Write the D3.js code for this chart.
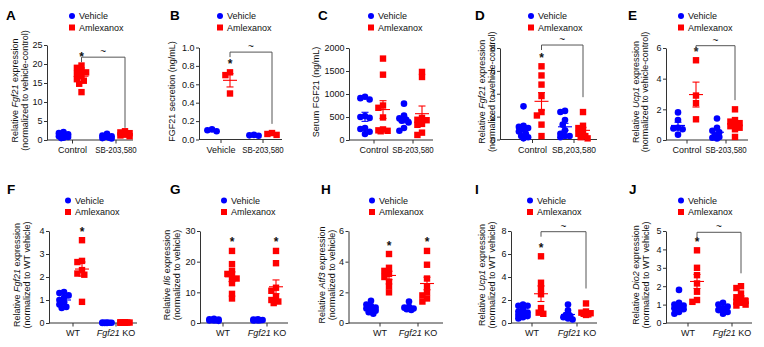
<!DOCTYPE html>
<html>
<head>
<meta charset="utf-8">
<script src="https://cdn.jsdelivr.net/npm/d3@7"></script>
<style>
  html, body { margin: 0; padding: 0; background: #fff; }
  svg { display: block; font-family: "Liberation Sans", Arial, sans-serif; }
</style>
</head>
<body>
<svg id="chart" width="764" height="347"></svg>
<script>
// ── Data ──────────────────────────────────────────────────
var sbCategories = ["Control", "SB-203,580"];
var sbCategoriesB = ["Vehicle", "SB-203,580"];
var sbCategoriesD = ["Control", "SB,203,580"];
var koCategories = ["WT", "Fgf21 KO"];
var seriesNames = ["Vehicle", "Amlexanox"];

// each array: [group 1 values, group 2 values]
var aVehicle = [[2.1, 1.8, 1.5, 1.3, 1.2, 1.1, 1.0, 0.8, 0.6, 0.5], [1.6, 1.2, 1.0, 0.9, 0.8, 0.6, 0.5, 0.4]];
var aAmlexanox = [[19.6, 19.0, 18.3, 17.8, 17.4, 16.8, 16.0, 15.6, 14.8, 12.6], [2.3, 2.0, 1.8, 1.7, 1.6, 1.4, 1.2, 1.0]];
var bVehicle = [[0.11, 0.10, 0.09], [0.05, 0.045, 0.04]];
var bAmlexanox = [[0.73, 0.70, 0.50], [0.07, 0.06, 0.05]];
var cVehicle = [[940, 910, 880, 520, 500, 480, 260, 240, 180, 130], [790, 530, 470, 440, 420, 380, 260, 200]];
var cAmlexanox = [[1770, 1420, 750, 700, 490, 230, 210, 200, 190], [1480, 1370, 480, 440, 430, 350, 330, 160, 110]];
var dVehicle = [[2.9, 1.2, 1.1, 1.0, 0.9, 0.7, 0.5, 0.3, 0.2, 0.1], [2.5, 2.4, 1.7, 1.3, 0.8, 0.5, 0.3, 0.3, 0.2]];
var dAmlexanox = [[6.4, 5.6, 4.8, 3.8, 2.4, 2.1, 1.3, 0.3], [2.4, 1.2, 1.0, 0.7, 0.5, 0.3, 0.2, 0.1]];
var eVehicle = [[1.8, 1.3, 0.8, 0.75, 0.7, 0.35], [1.4, 0.8, 0.6, 0.5, 0.3, 0.2, 0.15, 0.1]];
var eAmlexanox = [[5.2, 2.9, 2.4, 1.35], [2.0, 1.3, 1.2, 1.1, 1.0, 0.9, 0.8, 0.7, 0.2]];
var fVehicle = [[1.35, 1.3, 1.2, 1.1, 1.0, 0.9, 0.8, 0.7, 0.65], [0.02, 0.01, 0.01, 0.0, 0.0, 0.0, 0.01, 0.02]];
var fAmlexanox = [[3.6, 2.7, 2.65, 2.3, 2.15, 2.1, 0.92], [0.03, 0.02, 0.02, 0.01, 0.01, 0.02, 0.03]];
var gVehicle = [[1.4, 1.2, 1.1, 1.0, 0.9, 0.85, 0.8, 0.7], [1.2, 1.1, 1.0, 1.0, 0.9, 0.8, 0.8]];
var gAmlexanox = [[23.5, 19.2, 17.0, 16.0, 15.0, 14.5, 13.0, 9.5, 8.0], [23.5, 19.5, 11.5, 10.5, 8.5, 7.5, 7.0, 6.5]];
var hVehicle = [[1.45, 1.2, 1.1, 1.0, 0.95, 0.9, 0.8, 0.7, 0.6], [1.4, 1.05, 1.0, 0.95, 0.9, 0.85]];
var hAmlexanox = [[4.5, 3.6, 3.4, 3.2, 3.0, 2.7, 2.4, 2.0], [4.7, 3.8, 2.9, 2.4, 2.0, 1.8, 1.6, 1.4]];
var iVehicle = [[1.6, 1.5, 1.5, 1.2, 1.0, 0.9, 0.8, 0.7, 0.6, 0.5, 0.4], [1.6, 1.1, 0.7, 0.6, 0.5, 0.4, 0.3]];
var iAmlexanox = [[5.8, 3.5, 3.0, 2.5, 1.3, 0.9, 0.8], [1.7, 1.0, 0.9, 0.85, 0.8, 0.75, 0.7]];
var jVehicle = [[1.8, 1.1, 1.0, 0.95, 0.9, 0.8, 0.75, 0.6, 0.5], [1.1, 1.0, 0.9, 0.8, 0.7, 0.6, 0.5]];
var jAmlexanox = [[3.95, 3.0, 2.6, 2.15, 1.7, 1.25, 1.15], [2.0, 1.9, 1.6, 1.4, 1.3, 1.2, 1.15, 1.1, 1.0, 0.95]];

var ticksA = [0, 5, 10, 15, 20, 25];
var ticksB = [0, 0.2, 0.4, 0.6, 0.8, 1.0];
var ticksC = [0, 500, 1000, 1500, 2000];
var ticksD = [0, 2, 4, 6, 8];
var ticksE = [0, 2, 4, 6];
var ticksF = [0, 1, 2, 3, 4];
var ticksG = [0, 10, 20, 30];
var ticksH = [0, 2, 4, 6];
var ticksI = [0, 2, 4, 6, 8];
var ticksJ = [0, 1, 2, 3, 4, 5];

// ── Layout / styling ──────────────────────────────────────
var BLUE = "#0000ff", RED = "#ff0000", AXIS = "#333";
var FONT = "Liberation Sans, Arial, sans-serif";

var norm = "(normalized to vehicle-control)";
var panels = [
  { id: "A", lx: 6, row: 0, ax: 47, xe: 133, yt: 45, yb: 140, tx: [72.5, 116], lg: 72, ylx: [15, 25],
    cats: sbCategories, veh: aVehicle, aml: aAmlexanox, ticks: ticksA, fmt: d3.format("d"),
    ylab: [["Relative ", ""], ["Fgf21", "i"], [" expression", ""]], ylab2: norm,
    stars: [0], bracket: { top: 21.8, end: 3.2 } },
  { id: "B", lx: 170, row: 0, ax: 199, xe: 282, yt: 47.5, yb: 139.5, tx: [221, 263], lg: 220, ylx: [172],
    cats: sbCategoriesB, veh: bVehicle, aml: bAmlexanox, ticks: ticksB, fmt: d3.format(".1f"),
    ylab: [["FGF21 secretion (ng/mL)", ""]], stars: [0], bracket: { top: 0.95, end: 0.17 } },
  { id: "C", lx: 318, row: 0, ax: 349, xe: 433, yt: 48, yb: 140, tx: [374, 413], lg: 371, ylx: [316],
    cats: sbCategories, veh: cVehicle, aml: cAmlexanox, ticks: ticksC, fmt: d3.format("d"),
    ylab: [["Serum FGF21 (ng/mL)", ""]], stars: [] },
  { id: "D", lx: 475, row: 0, ax: 500, xe: 597, yt: 48, yb: 139.5, tx: [532.5, 574], lg: 531, ylx: [482, 492],
    cats: sbCategoriesD, veh: dVehicle, aml: dAmlexanox, ticks: ticksD, fmt: d3.format("d"),
    ylab: [["Relative ", ""], ["Fgf21", "i"], [" expression", ""]], ylab2: norm,
    stars: [0], bracket: { top: 8.26, end: 3.7 } },
  { id: "E", lx: 628, row: 0, ax: 666, xe: 748, yt: 48, yb: 140, tx: [687, 726], lg: 681, ylx: [636, 645],
    cats: sbCategories, veh: eVehicle, aml: eAmlexanox, ticks: ticksE, fmt: d3.format("d"),
    ylab: [["Relative ", ""], ["Ucp1", "i"], [" expression", ""]], ylab2: norm,
    stars: [0], bracket: { top: 6.15, end: 2.6 } },
  { id: "F", lx: 7, row: 1, ax: 49, xe: 137, yt: 231, yb: 323, tx: [73, 116], lg: 68, ylx: [17, 27],
    cats: koCategories, veh: fVehicle, aml: fAmlexanox, ticks: ticksF, fmt: d3.format("d"),
    ylab: [["Relative ", ""], ["Fgf21", "i"], [" expression", ""]], ylab2: "(normalized to WT vehicle)",
    stars: [0] },
  { id: "G", lx: 170, row: 1, ax: 200, xe: 288, yt: 231, yb: 323, tx: [223, 267], lg: 224, ylx: [167, 177],
    cats: koCategories, veh: gVehicle, aml: gAmlexanox, ticks: ticksG, fmt: d3.format("d"),
    ylab: [["Relative ", ""], ["Il6", "i"], [" expression", ""]], ylab2: "(normalized to vehicle)",
    stars: [0, 1] },
  { id: "H", lx: 321, row: 1, ax: 348.5, xe: 443, yt: 231, yb: 323, tx: [380, 418], lg: 372, ylx: [322, 332],
    cats: koCategories, veh: hVehicle, aml: hAmlexanox, ticks: ticksH, fmt: d3.format("d"),
    ylab: [["Relative ", ""], ["Atf3", "i"], [" expression", ""]], ylab2: "(normalized to vehicle)",
    stars: [0, 1] },
  { id: "I", lx: 475, row: 1, ax: 511, xe: 597, yt: 231, yb: 323, tx: [532, 577], lg: 530, ylx: [482, 492],
    cats: koCategories, veh: iVehicle, aml: iAmlexanox, ticks: ticksI, fmt: d3.format("d"),
    ylab: [["Relative ", ""], ["Ucp1", "i"], [" expression", ""]], ylab2: "(normalized to WT vehicle)",
    stars: [0], bracket: { top: 7.94, end: 3.0 } },
  { id: "J", lx: 629, row: 1, ax: 666, xe: 752, yt: 231, yb: 323, tx: [688, 732], lg: 681, ylx: [636, 646],
    cats: koCategories, veh: jVehicle, aml: jAmlexanox, ticks: ticksJ, fmt: d3.format("d"),
    ylab: [["Relative ", ""], ["Dio2", "i"], [" expression", ""]], ylab2: "(normalized to WT vehicle)",
    stars: [0], bracket: { top: 4.93, end: 2.7 } }
];

var legendTop = [16, 200.5];   // first legend row per panel row
var letterBase = [19.5, 194];  // panel-letter baseline per panel row
var svg = d3.select("#chart");
svg.append("rect").attr("width", 764).attr("height", 347).attr("fill", "#fff");

// simple dodge so overlapping points spread sideways (GraphPad-like scatter)
function dodge(values, y, maxOff) {
  var order = values.map(function (v, i) { return i; })
    .sort(function (a, b) { return values[b] - values[a]; });
  var placed = [], off = new Array(values.length);
  var minD = 4.6, step = 2.3;
  order.forEach(function (i) {
    var py = y(values[i]), best = 0, bestScore = -1;
    for (var k = 0; k <= 2 * Math.floor(maxOff / step); k++) {
      var o = (k % 2 ? -1 : 1) * Math.ceil(k / 2) * step;
      var dmin = Infinity;
      placed.forEach(function (p) {
        var d = Math.hypot(p[0] - o, p[1] - py);
        if (d < dmin) dmin = d;
      });
      if (dmin >= minD) { best = o; bestScore = Infinity; break; }
      if (dmin > bestScore) { bestScore = dmin; best = o; }
    }
    off[i] = best;
    placed.push([best, py]);
  });
  return off;
}

function mean(v) { return d3.mean(v); }
function sem(v) { return d3.deviation(v) / Math.sqrt(v.length); }

panels.forEach(function (p) {
  var g = svg.append("g").attr("class", "panel-" + p.id);

  var y = d3.scaleLinear().domain([0, d3.max(p.ticks)]).range([p.yb, p.yt]);
  var x = d3.scalePoint().domain(p.cats).range(p.tx);

  // panel letter
  g.append("text").attr("x", p.lx).attr("y", letterBase[p.row])
    .attr("font-size", 13.5).attr("font-weight", "bold").attr("fill", "#000").text(p.id);

  // legend
  var lgY = [legendTop[p.row], legendTop[p.row] + 11.5];
  g.append("circle").attr("cx", p.lg).attr("cy", lgY[0]).attr("r", 3).attr("fill", BLUE);
  g.append("rect").attr("x", p.lg - 3).attr("y", lgY[1] - 3).attr("width", 6).attr("height", 6).attr("fill", RED);
  seriesNames.forEach(function (s, i) {
    g.append("text").attr("x", p.lg + 7).attr("y", lgY[i] + 3.3)
      .attr("font-size", 9).attr("fill", "#111").text(s);
  });

  // y axis
  var yAxis = g.append("g").attr("transform", "translate(" + p.ax + ",0)")
    .call(d3.axisLeft(y).tickValues(p.ticks).tickFormat(p.fmt).tickSize(3).tickSizeOuter(0).tickPadding(1.5));
  yAxis.select(".domain").attr("stroke", AXIS);
  yAxis.selectAll(".tick line").attr("stroke", AXIS);
  yAxis.selectAll(".tick text").attr("font-size", 9).attr("font-family", FONT).attr("fill", "#111");

  // x axis
  g.append("line").attr("x1", p.ax).attr("x2", p.xe).attr("y1", p.yb).attr("y2", p.yb)
    .attr("stroke", AXIS);
  p.cats.forEach(function (c) {
    g.append("line").attr("x1", x(c)).attr("x2", x(c)).attr("y1", p.yb).attr("y2", p.yb + 3.5)
      .attr("stroke", AXIS);
    var t = g.append("text").attr("x", x(c)).attr("y", p.yb + 13).attr("text-anchor", "middle")
      .attr("font-size", 9).attr("fill", "#111");
    if (c === "Fgf21 KO") {
      t.append("tspan").attr("font-style", "italic").text("Fgf21");
      t.append("tspan").text(" KO");
    } else {
      t.text(c);
      // the compound name is set narrower in the figure
      if (c.indexOf("SB") === 0) {
        t.attr("textLength", c === "SB,203,580" ? 44 : 41.5).attr("lengthAdjust", "spacingAndGlyphs");
      }
    }
  });

  // y label (rotated, one or two lines)
  var cy = (p.yt + p.yb) / 2 - 2;
  var l1 = g.append("text").attr("text-anchor", "middle").attr("font-size", 9).attr("fill", "#111")
    .attr("transform", "translate(" + (p.ylx[0] + 3) + "," + cy + ") rotate(-90)");
  p.ylab.forEach(function (part) {
    l1.append("tspan").attr("font-style", part[1] === "i" ? "italic" : null).text(part[0]);
  });
  if (p.ylab2) {
    g.append("text").attr("text-anchor", "middle").attr("font-size", 9).attr("fill", "#111")
      .attr("transform", "translate(" + (p.ylx[1] + 3) + "," + cy + ") rotate(-90)")
      .text(p.ylab2);
  }

  // points + mean ± SEM
  var groups = [];
  p.cats.forEach(function (c, ci) {
    groups.push({ vals: p.veh[ci], cx: x(c) - 9, color: BLUE, shape: "circle" });
    groups.push({ vals: p.aml[ci], cx: x(c) + 9, color: RED, shape: "square" });
  });

  groups.forEach(function (gr) {
    var off = dodge(gr.vals, y, 6.5);
    var pts = gr.vals.map(function (v, i) { return { v: v, dx: off[i] }; });
    if (gr.shape === "circle") {
      g.selectAll(null).data(pts).join("circle")
        .attr("cx", function (d) { return gr.cx + d.dx; })
        .attr("cy", function (d) { return y(d.v); })
        .attr("r", 3.3).attr("fill", gr.color);
    } else {
      g.selectAll(null).data(pts).join("rect")
        .attr("x", function (d) { return gr.cx + d.dx - 3.2; })
        .attr("y", function (d) { return y(d.v) - 3.2; })
        .attr("width", 6.4).attr("height", 6.4).attr("fill", gr.color);
    }
    var m = mean(gr.vals), s = sem(gr.vals);
    var eb = g.append("g").attr("stroke", gr.color).attr("stroke-width", 1.1).attr("fill", "none");
    eb.append("line").attr("x1", gr.cx - 7).attr("x2", gr.cx + 7).attr("y1", y(m)).attr("y2", y(m));
    eb.append("line").attr("x1", gr.cx).attr("x2", gr.cx).attr("y1", y(m - s)).attr("y2", y(m + s));
    eb.append("line").attr("x1", gr.cx - 3.5).attr("x2", gr.cx + 3.5).attr("y1", y(m + s)).attr("y2", y(m + s));
    eb.append("line").attr("x1", gr.cx - 3.5).attr("x2", gr.cx + 3.5).attr("y1", y(m - s)).attr("y2", y(m - s));
  });

  // significance stars above the Amlexanox group
  p.stars.forEach(function (ci) {
    var sy = y(d3.max(p.aml[ci])) - 11;
    g.append("text").attr("x", x(p.cats[ci]) + 9).attr("y", sy + 6.5)
      .attr("text-anchor", "middle").attr("font-size", 12).attr("font-weight", "bold")
      .attr("fill", "#111").text("*");
  });

  // "~" comparison bracket between Amlexanox groups
  if (p.bracket) {
    var x1 = x(p.cats[0]) + 9, x2 = x(p.cats[1]) + 9, by = y(p.bracket.top);
    g.append("path")
      .attr("d", "M" + x1 + "," + (by + 5) + "V" + by + "H" + x2 + "V" + y(p.bracket.end))
      .attr("fill", "none").attr("stroke", "#555").attr("stroke-width", 1);
    g.append("text").attr("x", (x1 + x2) / 2).attr("y", by - 2)
      .attr("text-anchor", "middle").attr("font-size", 10).attr("fill", "#111").text("~");
  }
});
</script>
</body>
</html>
